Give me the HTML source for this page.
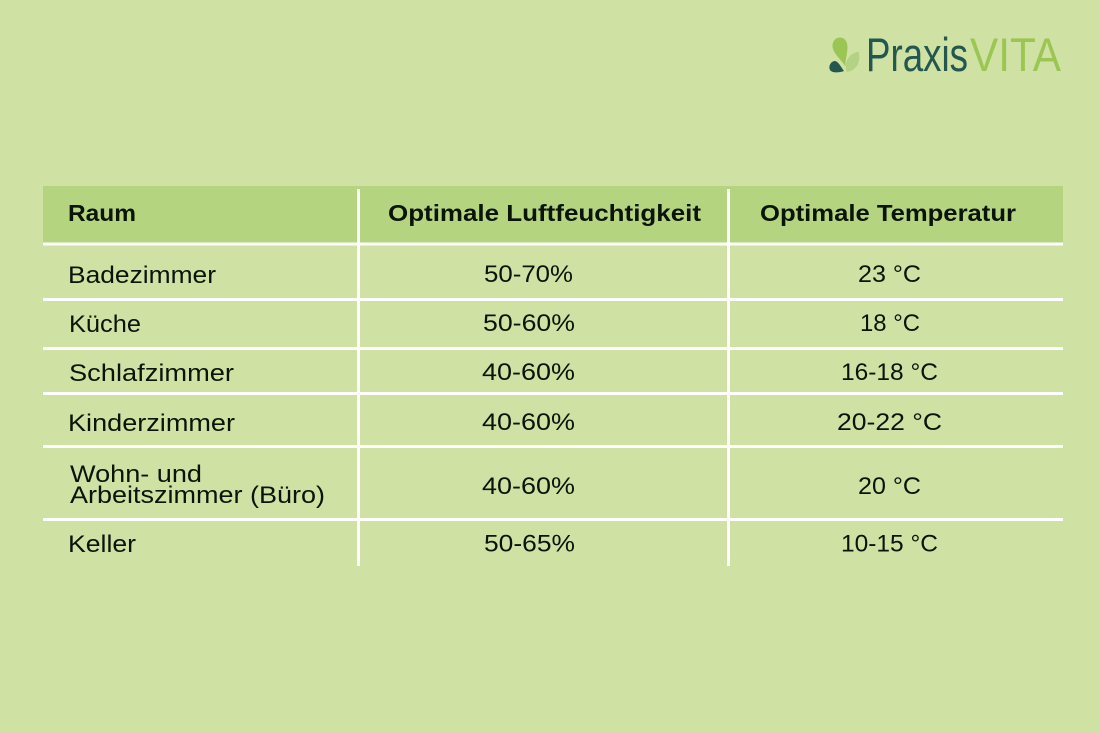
<!DOCTYPE html>
<html lang="de">
<head>
<meta charset="utf-8">
<title>Optimale Luftfeuchtigkeit und Temperatur</title>
<style>
  html, body { margin: 0; padding: 0; background: #cfe2a3; }
  svg { display: block; }
  text { font-family: "Liberation Sans", sans-serif; fill: #0b1408; }
  .h { font-size: 23px; font-weight: 700; }
  .b { font-size: 24px; }
</style>
</head>
<body>
<svg width="1100" height="733" viewBox="0 0 1100 733" xmlns="http://www.w3.org/2000/svg">
  <rect x="0" y="0" width="1100" height="733" fill="#cfe2a3"/>

  <g>
    <path d="M845.5 66.500 C841 59 832 53 832.500 45 C833 40 836.500 37.500 840 37.500 C845 37.500 847.500 42 847.500 47 C847.500 54 845 60 845.500 66.500 Z" fill="#9cc653"/>
    <path d="M847 72 C843.500 63 848 54 858.500 51.500 C861 60 858 70 847 72 Z" fill="#b4d283"/>
    <path d="M844 71 C839 73 832 73 830 70 C828 65.500 831.500 61 835 61 C838.500 61.500 841 67 844 71 Z" fill="#24584f"/>
    <text x="866" y="71" font-size="47" textLength="102" lengthAdjust="spacingAndGlyphs" style="fill:#24584f">Praxis</text>
    <text x="970" y="71" font-size="47" textLength="91" lengthAdjust="spacingAndGlyphs" style="fill:#9cc653">VITA</text>
  </g>

  <rect x="43" y="186" width="1020" height="57" fill="#b5d480"/>

  <g fill="#ffffff">
    <rect x="43" y="242.500" width="1020" height="3"/>
    <rect x="43" y="298" width="1020" height="3"/>
    <rect x="43" y="347" width="1020" height="3"/>
    <rect x="43" y="392" width="1020" height="3"/>
    <rect x="43" y="445" width="1020" height="3"/>
    <rect x="43" y="518" width="1020" height="3"/>
    <rect x="357" y="189" width="3" height="377"/>
    <rect x="727" y="189" width="3" height="377"/>
  </g>

  <g>
    <text class="h" x="68" y="221" textLength="68" lengthAdjust="spacingAndGlyphs">Raum</text>
    <text class="h" x="388" y="221" textLength="313" lengthAdjust="spacingAndGlyphs">Optimale Luftfeuchtigkeit</text>
    <text class="h" x="760" y="221" textLength="256" lengthAdjust="spacingAndGlyphs">Optimale Temperatur</text>
  </g>

  <g>
    <text class="b" x="68" y="283" textLength="148" lengthAdjust="spacingAndGlyphs">Badezimmer</text>
    <text class="b" x="484" y="282" textLength="89" lengthAdjust="spacingAndGlyphs">50-70%</text>
    <text class="b" x="858" y="282" textLength="63" lengthAdjust="spacingAndGlyphs">23 °C</text>
  </g>
  <g>
    <text class="b" x="69" y="332" textLength="72" lengthAdjust="spacingAndGlyphs">Küche</text>
    <text class="b" x="483" y="331" textLength="92" lengthAdjust="spacingAndGlyphs">50-60%</text>
    <text class="b" x="860" y="331" textLength="60" lengthAdjust="spacingAndGlyphs">18 °C</text>
  </g>
  <g>
    <text class="b" x="69" y="381" textLength="165" lengthAdjust="spacingAndGlyphs">Schlafzimmer</text>
    <text class="b" x="482" y="380" textLength="93" lengthAdjust="spacingAndGlyphs">40-60%</text>
    <text class="b" x="841" y="380" textLength="97" lengthAdjust="spacingAndGlyphs">16-18 °C</text>
  </g>
  <g>
    <text class="b" x="68" y="431" textLength="167" lengthAdjust="spacingAndGlyphs">Kinderzimmer</text>
    <text class="b" x="482" y="430" textLength="93" lengthAdjust="spacingAndGlyphs">40-60%</text>
    <text class="b" x="837" y="430" textLength="105" lengthAdjust="spacingAndGlyphs">20-22 °C</text>
  </g>
  <g>
    <text class="b" x="70" y="482" textLength="132" lengthAdjust="spacingAndGlyphs">Wohn- und</text>
    <text class="b" x="70" y="503" textLength="255" lengthAdjust="spacingAndGlyphs">Arbeitszimmer (Büro)</text>
    <text class="b" x="482" y="494" textLength="93" lengthAdjust="spacingAndGlyphs">40-60%</text>
    <text class="b" x="858" y="494" textLength="63" lengthAdjust="spacingAndGlyphs">20 °C</text>
  </g>
  <g>
    <text class="b" x="68" y="552" textLength="68" lengthAdjust="spacingAndGlyphs">Keller</text>
    <text class="b" x="484" y="551.500" textLength="91" lengthAdjust="spacingAndGlyphs">50-65%</text>
    <text class="b" x="841" y="551.500" textLength="97" lengthAdjust="spacingAndGlyphs">10-15 °C</text>
  </g>
</svg>
</body>
</html>
